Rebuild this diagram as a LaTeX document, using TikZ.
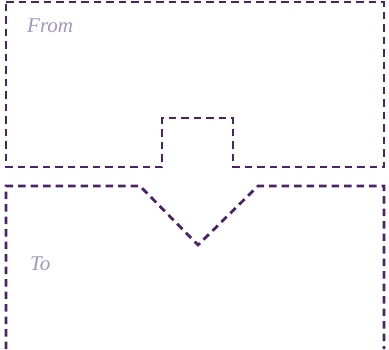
\documentclass[tikz,border=0pt]{standalone}
\usepackage{tikz}
\usepackage{fontspec}
\setmainfont{Liberation Serif}
\usetikzlibrary{calc,positioning}

\definecolor{edgepurple}{HTML}{4B2366}
\definecolor{labelpurple}{HTML}{A596BB}

\begin{document}
\begin{tikzpicture}[
            x=1pt, y=-1pt,
            region/.style={
                draw=edgepurple,
                line width=2.8pt,
                dash pattern=on 7.5pt off 5pt,
                line join=miter
            },
            tag/.style={
                anchor=base west,
                inner sep=0pt,
                text=labelpurple,
                font=\fontsize{21}{25}\selectfont\itshape
            }
        ]

            \useasboundingbox (0,0) rectangle (389,349);

            % upper region with a tab
            \draw[region]
                (6,2) -- (384,2) -- (384,167) -- (233,167) -- (233,118)
                -- (162,118) -- (162,167) -- (6,167) -- cycle;

            % lower region with a notch, open at the bottom
            \draw[region]
                (6,349) -- (6,186) -- (140,186) -- (198,245)
                -- (258,186) -- (384,186) -- (384,349);

            \node[tag] (from) at (27,32) {From};
            \node[tag] (to) at (30,270) {To};

        \end{tikzpicture}
\end{document}
